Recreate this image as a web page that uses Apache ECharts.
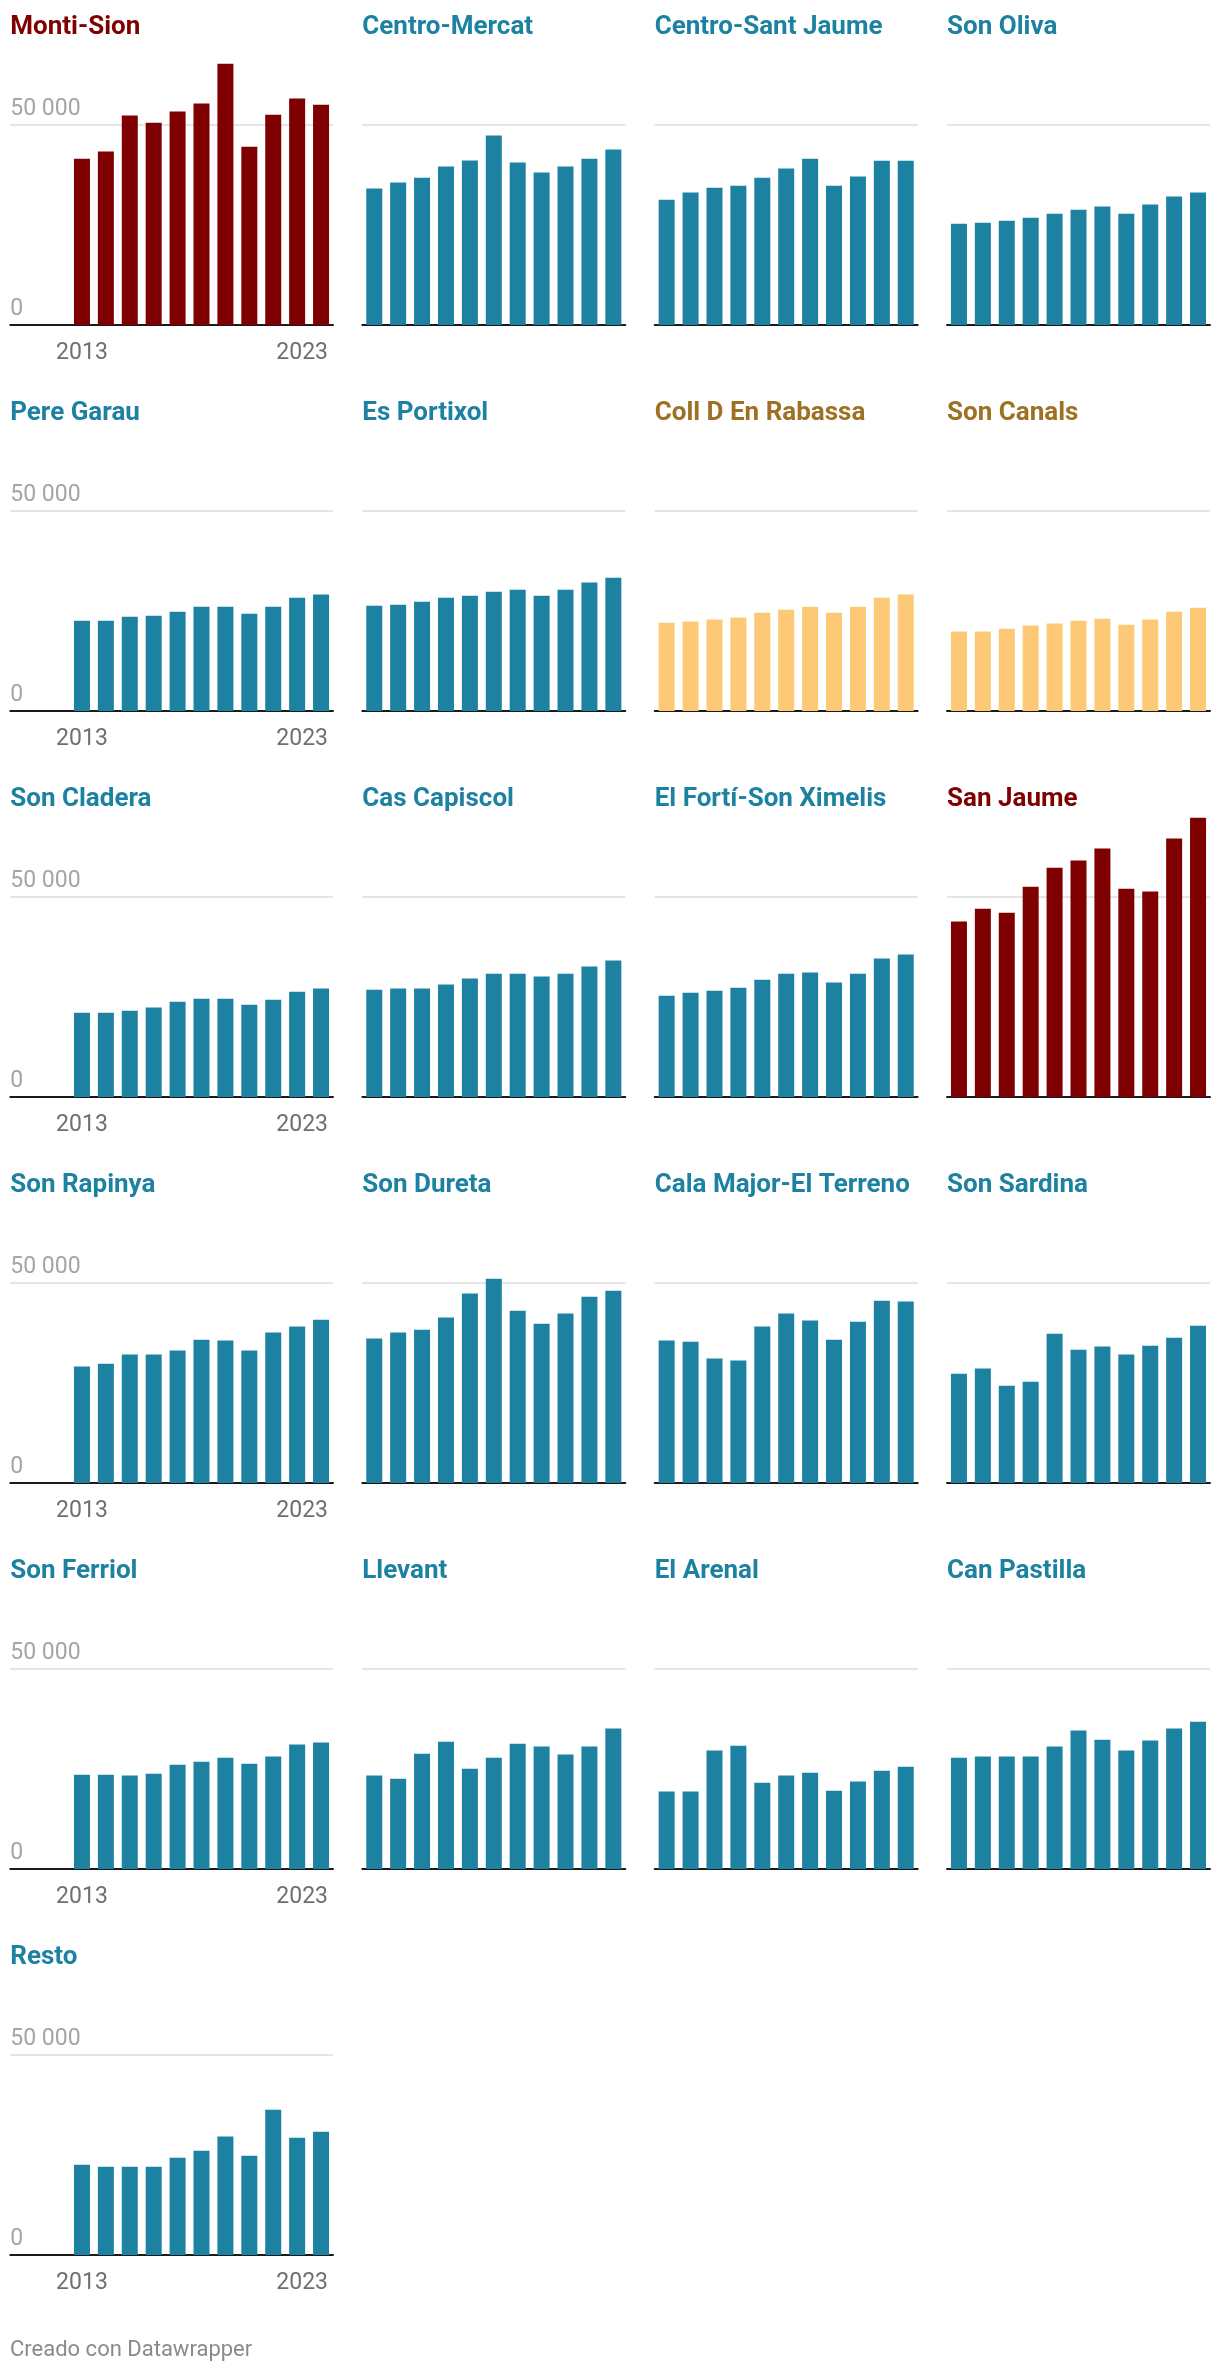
<!DOCTYPE html>
<html>
<head>
<meta charset="utf-8">
<script src="https://cdn.jsdelivr.net/npm/echarts@6/dist/echarts.min.js"></script>
<style>
  html, body { margin: 0; padding: 0; background: #ffffff; }
  #chart { width: 1220px; height: 2372px; }
</style>
</head>
<body>
<div id="chart"></div>
<script>
// ---- Data ----
const years = [2013, 2014, 2015, 2016, 2017, 2018, 2019, 2020, 2021, 2022, 2023];
const yTickLabels = { 0: '0', 50000: '50 000' };
const xFirstLabel = '2013';
const xLastLabel = '2023';

const montiSion       = [41400, 43200, 52200, 50400, 53200, 55200, 65100, 44400, 52400, 56400, 54900];
const centroMercat    = [34000, 35500, 36700, 39500, 41000, 47200, 40500, 38000, 39500, 41400, 43700];
const centroSantJaume = [31200, 33000, 34200, 34700, 36700, 39000, 41400, 34700, 37000, 40900, 40900];
const sonOliva        = [25200, 25500, 26000, 26700, 27700, 28700, 29500, 27700, 30000, 32000, 33000];
const pereGarau       = [22500, 22500, 23500, 23700, 24700, 26000, 26000, 24200, 26000, 28200, 29000];
const esPortixol      = [26200, 26500, 27200, 28200, 28700, 29700, 30200, 28700, 30200, 32000, 33200];
const collDEnRabassa  = [22000, 22300, 22800, 23300, 24500, 25200, 26000, 24500, 26000, 28200, 29000];
const sonCanals       = [19800, 19800, 20500, 21300, 21800, 22500, 23000, 21500, 22800, 24700, 25700];
const sonCladera      = [21000, 21000, 21500, 22300, 23700, 24500, 24500, 23000, 24200, 26200, 27000];
const casCapiscol     = [26700, 27000, 27000, 28000, 29500, 30700, 30700, 30000, 30700, 32500, 34000];
const elFortiSonXimelis = [25200, 26000, 26500, 27200, 29200, 30700, 31000, 28500, 30700, 34500, 35500];
const sanJaume        = [43700, 46900, 45900, 52400, 57100, 58900, 61900, 51900, 51200, 64400, 69600];
const sonRapinya      = [29000, 29700, 32000, 32000, 33000, 35700, 35500, 33000, 37500, 39000, 40700];
const sonDureta       = [36000, 37500, 38200, 41200, 47200, 50900, 42900, 39700, 42200, 46400, 47900];
const calaMajorElTerreno = [35500, 35200, 31000, 30500, 39000, 42200, 40500, 35700, 40200, 45400, 45200];
const sonSardina      = [27200, 28500, 24200, 25200, 37200, 33200, 34000, 32000, 34200, 36200, 39200];
const sonFerriol      = [23500, 23500, 23300, 23700, 26000, 26700, 27700, 26200, 28000, 31000, 31500];
const llevant         = [23300, 22500, 28700, 31700, 25000, 27700, 31200, 30500, 28500, 30500, 35000];
const elArenal        = [19300, 19300, 29500, 30700, 21500, 23300, 24000, 19500, 21800, 24500, 25500];
const canPastilla     = [27700, 28000, 28000, 28000, 30500, 34500, 32200, 29500, 32000, 35000, 36700];
const resto           = [22500, 22000, 22000, 22000, 24200, 26000, 29500, 24700, 36200, 29200, 30700];

const panelNames = ['Monti-Sion', 'Centro-Mercat', 'Centro-Sant Jaume', 'Son Oliva',
  'Pere Garau', 'Es Portixol', 'Coll D En Rabassa', 'Son Canals',
  'Son Cladera', 'Cas Capiscol', 'El Fortí-Son Ximelis', 'San Jaume',
  'Son Rapinya', 'Son Dureta', 'Cala Major-El Terreno', 'Son Sardina',
  'Son Ferriol', 'Llevant', 'El Arenal', 'Can Pastilla', 'Resto'];
const panelValues = [montiSion, centroMercat, centroSantJaume, sonOliva,
  pereGarau, esPortixol, collDEnRabassa, sonCanals,
  sonCladera, casCapiscol, elFortiSonXimelis, sanJaume,
  sonRapinya, sonDureta, calaMajorElTerreno, sonSardina,
  sonFerriol, llevant, elArenal, canPastilla, resto];
const highlightRed = ['Monti-Sion', 'San Jaume'];
const highlightGold = ['Coll D En Rabassa', 'Son Canals'];
const footerText = 'Creado con Datawrapper';

// ---- Styles / layout ----
const FONT = 'Roboto, "Noto Sans", sans-serif';
const TEAL = '#1d81a2', RED = '#7f0000', GOLD_BAR = '#fdc977', GOLD_TEXT = '#9e7023';
const barAreaLeft = [70, 362.3, 654.7, 947];
const barAreaWidth = 263;
const rowPitch = 386;
const baseline0 = 325;
const pxPer50k = 200.7;
const yMax = 70000;
const gridHeight = pxPer50k * yMax / 50000;
const yearStep = barAreaWidth / years.length;
const labelYears = 2.5; // extra axis room (in years) for the y labels of the first column

const grids = [], xAxes = [], yAxes = [], series = [], titles = [];

panelNames.forEach((name, i) => {
  const row = Math.floor(i / 4), col = i % 4;
  const firstCol = col === 0;
  const baseY = baseline0 + row * rowPitch;
  const extra = firstCol ? labelYears * yearStep : 0;
  const left = barAreaLeft[col] - extra;
  const width = barAreaWidth + extra;
  const xMin = firstCol ? years[0] - 0.5 - labelYears : years[0] - 0.5;
  const xMax = years[years.length - 1] + 0.5;
  let barColor = TEAL, titleColor = TEAL;
  if (highlightRed.includes(name)) { barColor = RED; titleColor = RED; }
  if (highlightGold.includes(name)) { barColor = GOLD_BAR; titleColor = GOLD_TEXT; }

  grids.push({ left: left, top: baseY - gridHeight, width: width, height: gridHeight, containLabel: false });
  titles.push({
    text: name, left: left, top: 14 + row * rowPitch, padding: 0,
    textStyle: { fontFamily: FONT, fontSize: 26, fontWeight: 'bold', color: titleColor }
  });
  xAxes.push({
    gridIndex: i, type: 'value', min: xMin, max: xMax, interval: 1,
    axisLine: { show: true, lineStyle: { color: '#1a1a1a', width: 2 } },
    axisTick: { show: false },
    splitLine: { show: false },
    axisLabel: {
      show: firstCol, margin: 17, showMinLabel: true, showMaxLabel: true,
      alignMaxLabel: 'right',
      fontFamily: FONT, fontSize: 23, color: '#6f6f6f',
      formatter: v => (Math.abs(v - years[0]) < 1e-6 ? xFirstLabel : (Math.abs(v - xMax) < 1e-6 ? '{r|' + xLastLabel + '}' : '')),
      rich: { r: { fontFamily: FONT, fontSize: 23, color: '#6f6f6f', padding: [0, 5, 0, 0] } }
    }
  });
  yAxes.push({
    gridIndex: i, type: 'value', min: 0, max: yMax, interval: 50000,
    axisLine: { show: false }, axisTick: { show: false },
    splitLine: { show: true, showMinLine: false, showMaxLine: false, lineStyle: { color: '#e5e5e5', width: 2 } },
    axisLabel: {
      show: firstCol, inside: true, margin: 0, showMaxLabel: false,
      align: 'left', verticalAlign: 'bottom', padding: [0, 0, 4, 0],
      fontFamily: FONT, fontSize: 23, color: '#a5a5a5',
      formatter: v => (yTickLabels[v] !== undefined ? yTickLabels[v] : '')
    }
  });
  series.push({
    type: 'bar', xAxisIndex: i, yAxisIndex: i, barWidth: 16,
    itemStyle: { color: barColor },
    data: years.map((y, k) => [y, panelValues[i][k]]),
    silent: true
  });
});

titles.push({
  text: footerText, left: 10, top: 2339, padding: 0,
  textStyle: { fontFamily: FONT, fontSize: 22, fontWeight: 'normal', color: '#8a8a8a' }
});

const chart = echarts.init(document.getElementById('chart'), null, { renderer: 'canvas' });
chart.setOption({
  animation: false,
  backgroundColor: '#ffffff',
  title: titles,
  grid: grids,
  xAxis: xAxes,
  yAxis: yAxes,
  series: series
});
</script>
</body>
</html>
